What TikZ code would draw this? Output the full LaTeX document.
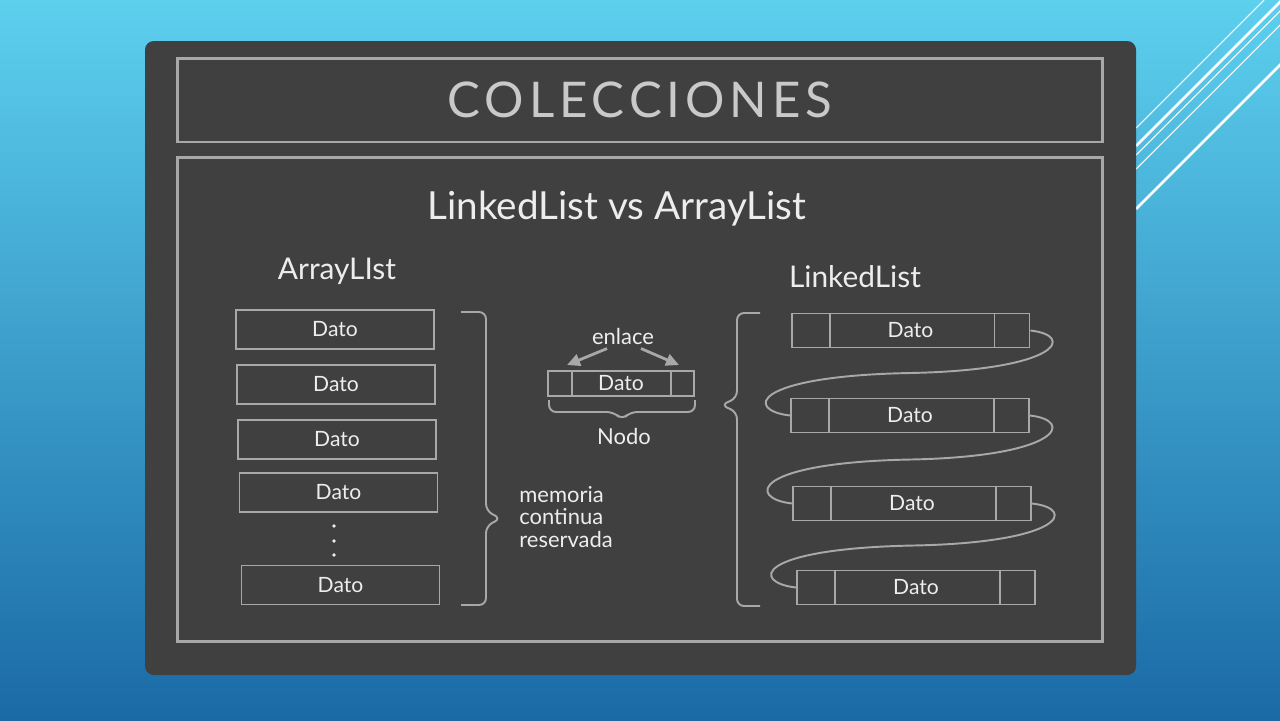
\documentclass[tikz,border=0pt]{standalone}
\usepackage{fontspec}
\setmainfont{Lato}
\usepackage{xcolor}
\definecolor{chalk}     {HTML}{EDEDED}
\definecolor{chalkLine} {HTML}{A8A8A8}
\definecolor{board}     {HTML}{404040}
\definecolor{skyTop}    {HTML}{5DD0EE}
\definecolor{skyBot}    {HTML}{1A6AA6}
\usetikzlibrary{arrows.meta, positioning, calc}
\tikzset{
    boardframe/.style={draw=chalkLine, line width=1.7pt, inner sep=0pt},
    cell/.style={draw=chalkLine, line width=1.1pt, inner sep=0pt,
                 text=chalk, font=\fontsize{12}{14}\selectfont},
    arrcell/.style={cell, minimum width=3.96cm, minimum height=0.78cm},
    lnode/.style={cell, minimum width=4.76cm, minimum height=0.68cm},
    chalktext/.style={text=chalk, inner sep=0pt},
    brk/.style={draw=chalkLine, line width=1.1pt, rounded corners=4pt},
    link/.style={draw=chalkLine, line width=1.1pt},
    enl/.style={-{Triangle[length=2.6mm, width=2.4mm]}, draw=chalkLine,
                line width=1.6pt},
    glint/.style={draw=white, line width=0.6pt},
}

\begin{document}
\begin{tikzpicture}[x=0.02cm, y=-0.02cm]
\clip (0,0) rectangle (1280,720);
% --- slide background ---
\fill[top color=skyTop, bottom color=skyBot] (0,0) rectangle (1280,720);
\draw[glint] (1264,0) -- (1136,128);
\draw[glint, line width=1.5pt] (1282,0) -- (1136,146);
\draw[glint] (1291,0) -- (1136,155);
\draw[glint] (1305,0) -- (1136,169);
\draw[glint, line width=1.5pt] (1345,0) -- (1136,209);
\fill[board, rounded corners=5pt] (145,41) rectangle (1136,675);

% --- frames ---
\node[boardframe, minimum width=18.52cm, minimum height=1.68cm,
      text=chalk!85!black, font=\fontsize{28}{30}\selectfont\addfontfeature{LetterSpace=10}]
    (titlebox) at (640,100) {COLECCIONES};
\node[boardframe, minimum width=18.52cm, minimum height=9.7cm]
    (contentbox) at (640,399.5) {};
\node[chalktext, font=\fontsize{22}{26}\selectfont] (heading) at (617,209)
    {LinkedList vs ArrayList};

% --- ArrayList: contiguous cells ---
\node[chalktext, font=\fontsize{17}{20}\selectfont] (arrtitle) at (337,271) {ArrayLIst};
\node[arrcell] (a1) at (335,329.5) {Dato};
\node[arrcell] (a2) at (336,384.5) {Dato};
\node[arrcell] (a3) at (337,439.5) {Dato};
\node[arrcell] (a4) at (338.5,492.5) {Dato};
\node[arrcell] (a5) at (340.5,585) {Dato};
\foreach \y in {526,541,555}
    \fill[chalk] (334,\y) circle (1.8);
\draw[brk] (461,312) -- (486,312) -- (486,511) -- (501,518.5) -- (486,526)
    -- (486,605) -- (461,605);
\node[chalktext, align=left, anchor=north west,
      font=\fontsize{12.5}{12.8}\selectfont] (memtext) at (519,486)
    {memoria\\continua\\reservada};

% --- one node of the linked list ---
\node[chalktext, font=\fontsize{12.5}{14}\selectfont] (enlace) at (623,336) {enlace};
\node[cell, minimum width=2.92cm, minimum height=0.5cm] (sample) at (621,383.5) {Dato};
\draw[chalkLine, line width=1.1pt] ([xshift=0.5cm]sample.north west)
    -- ([xshift=0.5cm]sample.south west);
\draw[chalkLine, line width=1.1pt] ([xshift=-0.48cm]sample.north east)
    -- ([xshift=-0.48cm]sample.south east);
\coordinate (enlL) at (567,365);
\coordinate (enlR) at (679,365);
\draw[enl] ([xshift=-0.32cm, yshift=-0.08cm]enlace.south) -- (enlL);
\draw[enl] ([xshift=0.36cm, yshift=-0.08cm]enlace.south) -- (enlR);
\draw[brk] (549,400) -- (549,412) -- (614,412) -- (622,420) -- (630,412)
    -- (695,412) -- (695,400);
\node[chalktext, font=\fontsize{12.5}{14}\selectfont] (nodo) at (624,436) {Nodo};

% --- LinkedList: scattered nodes ---
\node[chalktext, font=\fontsize{17}{20}\selectfont] (lnktitle) at (855,277) {LinkedList};
\draw[brk] (760,313) -- (737,313) -- (737,398) -- (721,405) -- (737,412)
    -- (737,606) -- (760,606);
\node[lnode] (l1) at (910.5,330.5) {Dato};
\node[lnode] (l2) at (910,415.5) {Dato};
\node[lnode] (l3) at (912,503.5) {Dato};
\node[lnode] (l4) at (916,587.5) {Dato};
\foreach \n in {l1,l2,l3,l4} {
    \draw[link] ([xshift=0.78cm]\n.north west) -- ([xshift=0.78cm]\n.south west);
    \draw[link] ([xshift=-0.72cm]\n.north east) -- ([xshift=-0.72cm]\n.south east);
}
\foreach \a/\b in {l1/l2, l2/l3, l3/l4}
    \draw[link] (\a.east) .. controls +(45,5) and +(150,-3)
        .. ($(\a.east)!.5!(\b.west)$) .. controls +(-160,3) and +(-45,-5) .. (\b.west);
\end{tikzpicture}
\end{document}
